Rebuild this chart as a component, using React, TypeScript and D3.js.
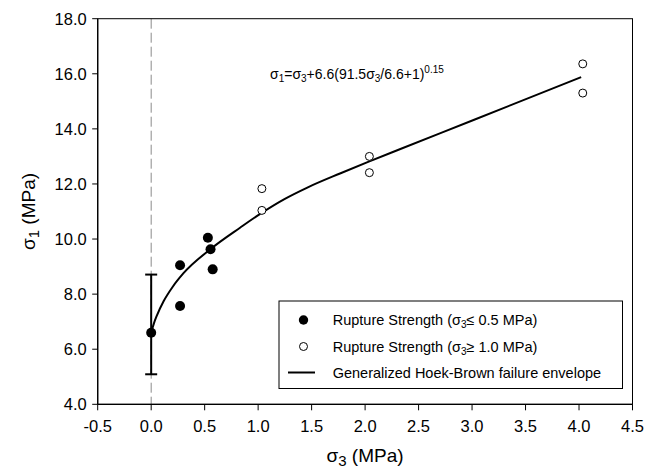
import React from "react";
import * as d3 from "d3";

const xTicks = [-0.5, 0.0, 0.5, 1.0, 1.5, 2.0, 2.5, 3.0, 3.5, 4.0, 4.5];
const yTicks = [4, 6, 8, 10, 12, 14, 16, 18];

const filledX = [0, 0.27, 0.27, 0.53, 0.555, 0.575];
const filledY = [6.6, 9.05, 7.57, 10.05, 9.63, 8.9];

const openX = [1.035, 1.035, 2.04, 2.04, 4.035, 4.035];
const openY = [11.83, 11.04, 13.0, 12.41, 16.36, 15.3];

const errX = [0];
const errLow = [5.09];
const errHigh = [8.71];

const curveX = [0, 0.01, 0.025, 0.053, 0.116, 0.2, 0.3, 0.553, 0.834, 1.037, 1.25, 1.46, 1.771, 2.04, 2.33, 3.02, 4.02];
const curveY = [6.6, 6.74, 6.93, 7.22, 7.74, 8.26, 8.75, 9.63, 10.42, 10.96, 11.46, 11.87, 12.39, 12.82, 13.27, 14.33, 15.88];

const legendLabels = [
  "Rupture Strength (σ3≤ 0.5 MPa)",
  "Rupture Strength (σ3≥ 1.0 MPa)",
  "Generalized Hoek-Brown failure envelope",
];

const FONT = "'Liberation Sans', Arial, Helvetica, sans-serif";

export default function App() {
  const W = 656, H = 469;
  const left = 97.7, right = 632.5, top = 18.7, bottom = 404.3;
  const x = d3.scaleLinear().domain([-0.5, 4.5]).range([left, right]);
  const y = d3.scaleLinear().domain([4, 18]).range([bottom, top]);

  const pts = curveX.map((v, i) => [v, curveY[i]] as [number, number]);
  const line = d3
    .line<[number, number]>()
    .x((d) => x(d[0]))
    .y((d) => y(d[1]))
    .curve(d3.curveMonotoneX);

  const lx = 279, ly = 301, lw = 343.5, lh = 87.5;
  const rowY = [320, 346.5, 372.5];

  return (
    <svg
      width={W}
      height={H}
      style={{ position: "absolute", left: 0, top: 0, background: "#fff" }}
      fontFamily={FONT}
    >
      <rect x={0} y={0} width={W} height={H} fill="#fff" />
      {/* dashed zero line */}
      <line
        x1={x(0)}
        x2={x(0)}
        y1={top}
        y2={bottom}
        stroke="#8a8a8a"
        strokeWidth={1}
        strokeDasharray="10,4"
      />
      {/* frame */}
      <rect x={left} y={top} width={right - left} height={bottom - top} fill="none" stroke="#000" strokeWidth={1} />
      <line x1={left} x2={left} y1={top} y2={bottom} stroke="#000" strokeWidth={1.3} />
      <line x1={left} x2={right} y1={bottom} y2={bottom} stroke="#000" strokeWidth={1.3} />

      {/* y ticks */}
      {yTicks.map((t) => (
        <g key={"y" + t}>
          <line x1={left - 5.5} x2={left} y1={y(t)} y2={y(t)} stroke="#000" strokeWidth={1} />
          <text x={left - 11} y={y(t)} dy="0.36em" textAnchor="end" fontSize={16.5} fill="#000">
            {t.toFixed(1)}
          </text>
        </g>
      ))}
      {/* x ticks */}
      {xTicks.map((t) => (
        <g key={"x" + t}>
          <line x1={x(t)} x2={x(t)} y1={bottom} y2={bottom + 6} stroke="#000" strokeWidth={1} />
          <text x={x(t)} y={bottom + 28} textAnchor="middle" fontSize={16.5} fill="#000">
            {t.toFixed(1)}
          </text>
        </g>
      ))}

      {/* axis titles */}
      <text x={365} y={462} textAnchor="middle" fontSize={19} fill="#000">
        <tspan>σ</tspan>
        <tspan fontSize={15} dy={4}>3</tspan>
        <tspan dy={-4}> (MPa)</tspan>
      </text>
      <text
        transform={`translate(35,${(top + bottom) / 2}) rotate(-90)`}
        textAnchor="middle"
        fontSize={19}
        fill="#000"
      >
        <tspan>σ</tspan>
        <tspan fontSize={15} dy={4}>1</tspan>
        <tspan dy={-4}> (MPa)</tspan>
      </text>

      {/* error bar */}
      {errX.map((v, i) => (
        <g key={"e" + i} stroke="#000" strokeWidth={2}>
          <line x1={x(v)} x2={x(v)} y1={y(errLow[i])} y2={y(errHigh[i])} />
          <line x1={x(v) - 6} x2={x(v) + 6} y1={y(errLow[i])} y2={y(errLow[i])} />
          <line x1={x(v) - 6} x2={x(v) + 6} y1={y(errHigh[i])} y2={y(errHigh[i])} />
        </g>
      ))}

      {/* curve */}
      <path d={line(pts) || ""} fill="none" stroke="#000" strokeWidth={2} />

      {/* points */}
      {filledX.map((v, i) => (
        <circle key={"f" + i} cx={x(v)} cy={y(filledY[i])} r={5} fill="#000" />
      ))}
      {openX.map((v, i) => (
        <circle key={"o" + i} cx={x(v)} cy={y(openY[i])} r={4} fill="#fff" stroke="#000" strokeWidth={1} />
      ))}

      {/* equation */}
      <text x={270} y={79} fontSize={14} fill="#000">
        <tspan>σ</tspan>
        <tspan fontSize={10} dy={3}>1</tspan>
        <tspan dy={-3}>=σ</tspan>
        <tspan fontSize={10} dy={3}>3</tspan>
        <tspan dy={-3}>+6.6(91.5σ</tspan>
        <tspan fontSize={10} dy={3}>3</tspan>
        <tspan dy={-3}>/6.6+1)</tspan>
        <tspan fontSize={10} dy={-6}>0.15</tspan>
      </text>

      {/* legend */}
      <rect x={lx} y={ly} width={lw} height={lh} fill="#fff" stroke="#000" strokeWidth={1} />
      <circle cx={303.5} cy={rowY[0]} r={4.7} fill="#000" />
      <circle cx={303.5} cy={rowY[1]} r={4} fill="#fff" stroke="#000" strokeWidth={1} />
      <line x1={288} x2={315} y1={rowY[2]} y2={rowY[2]} stroke="#000" strokeWidth={2} />
      {legendLabels.map((lab, i) => {
        const m = lab.match(/^(.*\()σ3(.*)$/);
        return (
          <text key={"l" + i} x={332.7} y={rowY[i]} dy="0.36em" fontSize={14.5} fill="#000">
            {m ? (
              <>
                <tspan>{m[1]}σ</tspan>
                <tspan fontSize={10} dy={3}>3</tspan>
                <tspan dy={-3}>{m[2]}</tspan>
              </>
            ) : (
              lab
            )}
          </text>
        );
      })}
    </svg>
  );
}
